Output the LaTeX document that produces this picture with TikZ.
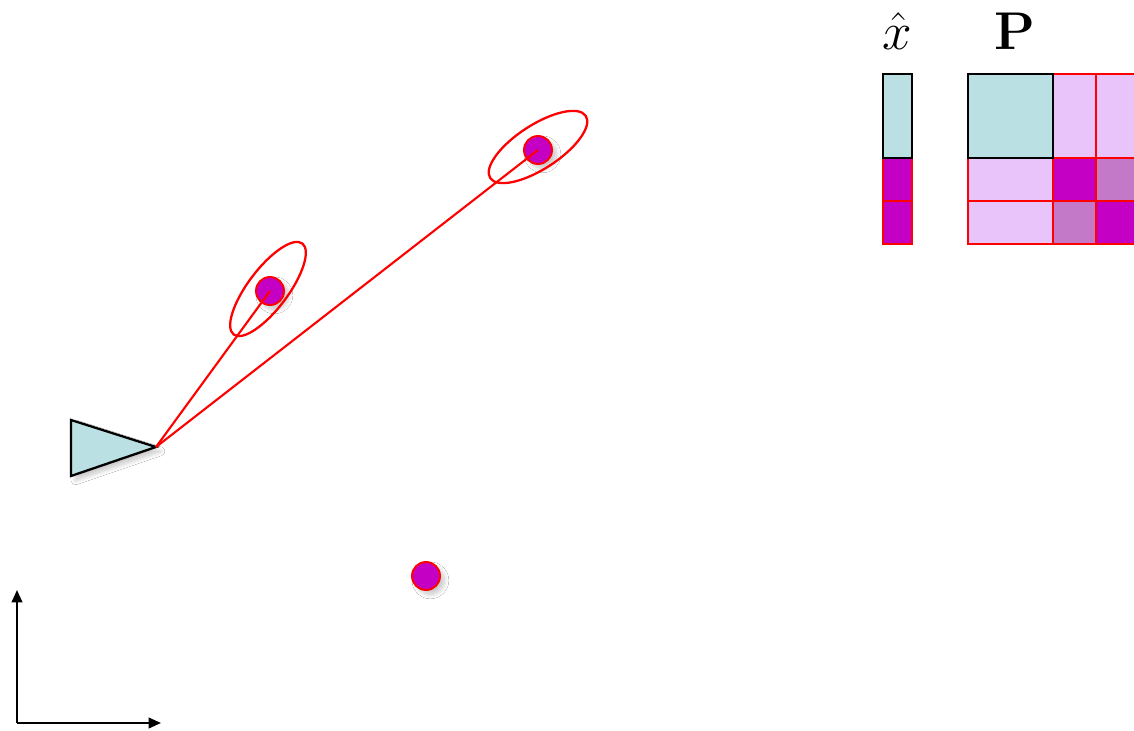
\documentclass[tikz,border=0pt]{standalone}
\usepackage{amsmath}
\usetikzlibrary{arrows.meta,shadows.blur}
\definecolor{robotcyan}{HTML}{BAE0E3}
\definecolor{lmmag}{HTML}{C400C4}
\definecolor{lightpink}{HTML}{E8C4FA}
\definecolor{midpink}{HTML}{C478C8}
\definecolor{pureRed}{HTML}{FF0000}
\tikzset{
  softshadow/.style={blur shadow={shadow xshift=2.5pt, shadow yshift=-2.5pt, shadow blur radius=2.5pt, shadow blur steps=10, shadow opacity=22}},
  landmark/.style={circle, fill=lmmag, draw=pureRed, line width=1.1pt, minimum size=0.56cm, inner sep=0pt, softshadow},
  obs/.style={draw=pureRed, line width=1.2pt},
  unc/.style={draw=pureRed, line width=1.3pt},
  axis/.style={draw=black, line width=1.2pt, -{Triangle[length=7pt,width=6pt]}},
  cellred/.style={draw=pureRed, line width=1.2pt},
  cellblack/.style={draw=black, line width=1.3pt},
  lbl/.style={inner sep=0pt}
}
\begin{document}
\begin{tikzpicture}[x=0.02cm,y=0.02cm]
\clip (0,0) rectangle (1134,731);
\fill[white] (0,0) rectangle (1134,731);
% axes
\coordinate (origin) at (17,8);
\coordinate (yend) at (17,141);
\coordinate (xend) at (161,8);
\draw[axis] (origin) -- (yend);
\draw[axis] (origin) -- (xend);
% robot
\coordinate (tip) at (156,284);
\draw[fill=robotcyan, draw=black, line width=1.3pt, line join=miter, softshadow]
  (71,311) -- (71,255) -- (tip) -- cycle;
% landmarks
\node[landmark] (lm1) at (270,440) {};
\node[landmark] (lm2) at (538,581) {};
\node[landmark] (lm3) at (426,155) {};
% uncertainty ellipses
\draw[unc, rotate around={53:(268,442)}] (268,442) ellipse (57 and 20);
\draw[unc, rotate around={33:(538,584)}] (538,584) ellipse (57 and 22);
% observations
\draw[obs] (tip) -- (lm1.center);
\draw[obs] (tip) -- (lm2.center);
% state vector labels
\node[lbl] (xhat) at (897,700) {\scalebox{1.75}{\LARGE$\hat{x}$}};
\node[lbl] (Plbl) at (1015,700) {\scalebox{1.75}{\LARGE$\mathbf{P}$}};
% state vector
\filldraw[cellred, fill=lmmag] (883,573) rectangle (912,530);
\filldraw[cellred, fill=lmmag] (883,530) rectangle (912,487);
\filldraw[cellblack, fill=robotcyan] (883,657) rectangle (912,573);
% covariance matrix
\filldraw[cellred, fill=lightpink] (1053,657) rectangle (1096,573);
\filldraw[cellred, fill=lightpink] (1096,657) rectangle (1139,573);
\filldraw[cellred, fill=lightpink] (968,573) rectangle (1053,530);
\filldraw[cellred, fill=lightpink] (968,530) rectangle (1053,487);
\filldraw[cellred, fill=lmmag] (1053,573) rectangle (1096,530);
\filldraw[cellred, fill=midpink] (1096,573) rectangle (1139,530);
\filldraw[cellred, fill=midpink] (1053,530) rectangle (1096,487);
\filldraw[cellred, fill=lmmag] (1096,530) rectangle (1139,487);
\filldraw[cellblack, fill=robotcyan] (968,657) rectangle (1053,573);
\end{tikzpicture}
\end{document}
